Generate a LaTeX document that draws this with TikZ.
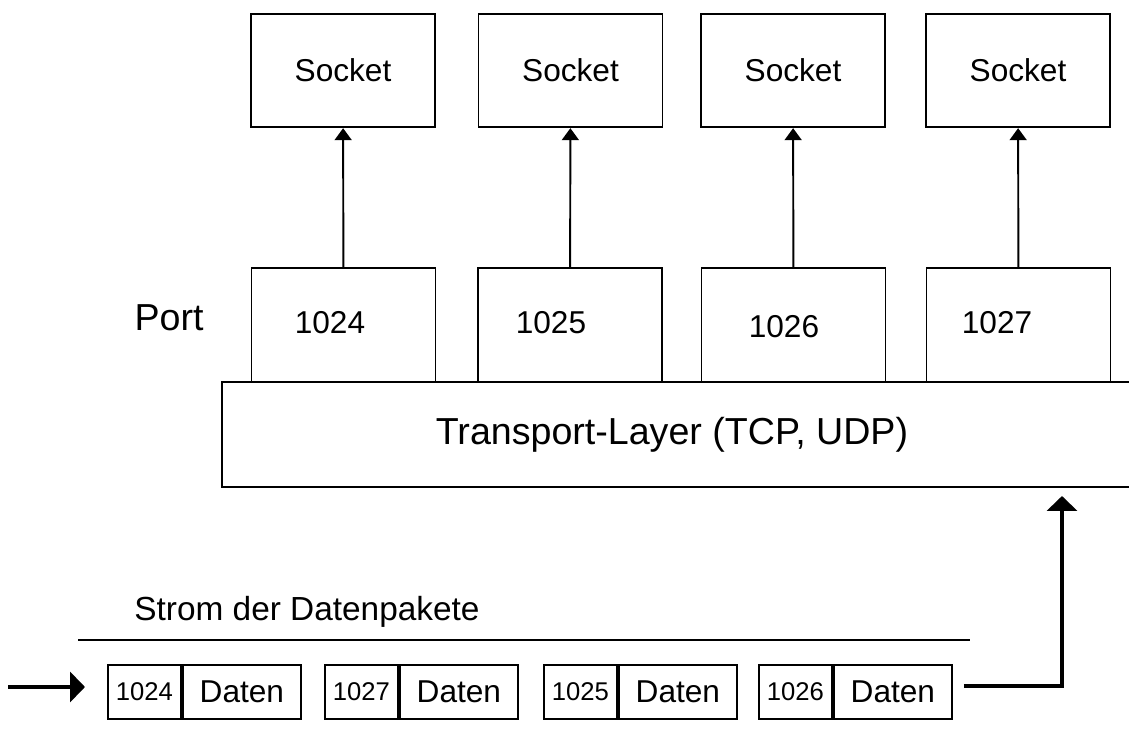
\documentclass[tikz,border=0pt]{standalone}
\usepackage{fontspec}
\setmainfont{Liberation Sans}
\usetikzlibrary{arrows.meta}
\begin{document}
\begin{tikzpicture}[x=0.02cm,y=-0.02cm,
  box/.style={draw,line width=1.1pt,minimum width=3.68cm,minimum height=2.27cm,inner sep=0pt},
  cell/.style={draw,line width=1.1pt,minimum height=1.08cm,inner sep=0pt,anchor=west},
  up/.style={line width=1.1pt,-{Triangle[width=0.34cm,length=0.24cm]}},
  flow/.style={line width=2.3pt,-{Triangle[width=0.6cm,length=0.3cm]}}]
\def\big{\fontsize{21.4}{24}\selectfont}
\def\mid{\fontsize{18}{20}\selectfont}
\def\sm{\fontsize{14.6}{16}\selectfont}
\useasboundingbox (0,0) rectangle (1129,742);
\node[box,font=\mid] (s1) at (343,70.5) {Socket};
\node[box,font=\mid] (s2) at (570.5,70.5) {Socket};
\node[box,font=\mid] (s3) at (793,70.5) {Socket};
\node[box,font=\mid] (s4) at (1018,70.5) {Socket};
\node[box] (p1) at (343.5,325) {};
\node[box] (p2) at (570,325) {};
\node[box] (p3) at (793.5,325) {};
\node[box] (p4) at (1018.5,325) {};
\node[font=\mid] (n1) at (330,323) {1024};
\node[font=\mid] (n2) at (551,323) {1025};
\node[font=\mid] (n3) at (784,327) {1026};
\node[font=\mid] (n4) at (997,323) {1027};
\node[font=\big] (port) at (169,318) {Port};
\draw[up] (p1) -- (s1);
\draw[up] (p2) -- (s2);
\draw[up] (p3) -- (s3);
\draw[up] (p4) -- (s4);
\node[font=\big] (tl) at (672,435) {Transport-Layer (TCP, UDP)};
\draw[line width=1.1pt] (1129,382) -- (222,382) -- (222,487) -- (1129,487);
\node[font=\fontsize{19}{22}\selectfont] (strom) at (307,612) {Strom der Datenpakete};
\draw[line width=1.1pt] (78,640) -- (970,640);
\foreach \x/\n/\i in {107/1024/1,324/1027/2,543/1025/3,758/1026/4}{
  \node[cell,minimum width=1.46cm,font=\sm] (k\i) at (\x,692) {\n};
  \node[cell,minimum width=2.36cm,font=\mid] (d\i) at (k\i.east) {Daten};
}
\coordinate (in) at (8,687);
\coordinate (tin) at (1062,496);
\draw[flow] (in) -- ([xshift=-0.44cm]in -| k1.west);
\draw[flow] ([xshift=0.22cm]d4.east |- 0,686) -| (tin);
\end{tikzpicture}
\end{document}
